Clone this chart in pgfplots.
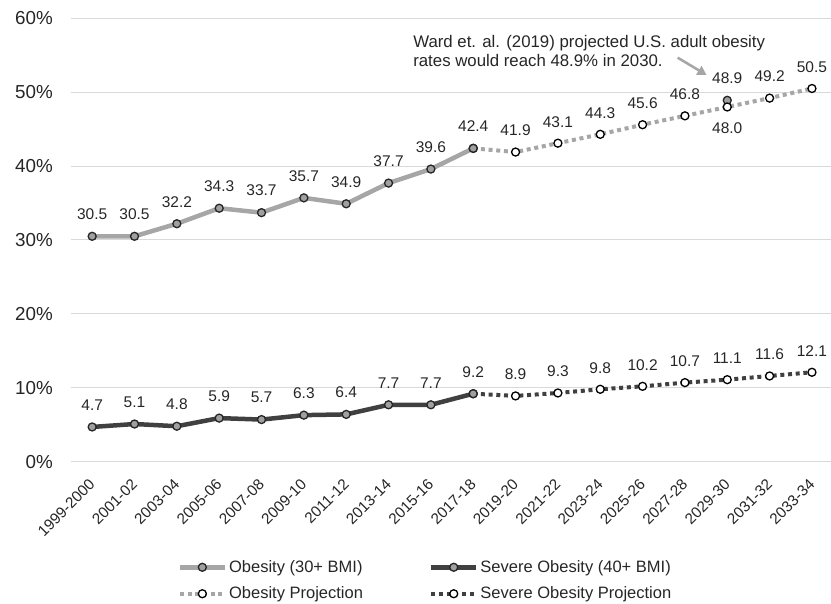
\documentclass[border=0pt]{standalone}
\usepackage{pgfplots}
\pgfplotsset{compat=1.18}
\usepackage{pgfplotstable}
\usetikzlibrary{arrows.meta}
\usepackage{fontspec}
\setmainfont{Liberation Sans}

\definecolor{obline}{HTML}{A6A6A6}
\definecolor{sevline}{HTML}{404040}
\definecolor{mkfill}{HTML}{A0A0A0}
\definecolor{mkedge}{HTML}{262626}
\definecolor{gridc}{HTML}{D9D9D9}
\definecolor{txt}{HTML}{262626}

% measured prevalence (%), index 0 = 1999-2000
\pgfplotstableread{
x y
0 30.5
1 30.5
2 32.2
3 34.3
4 33.7
5 35.7
6 34.9
7 37.7
8 39.6
9 42.4
}\obesity
\pgfplotstableread{
x y
0 4.7
1 5.1
2 4.8
3 5.9
4 5.7
5 6.3
6 6.4
7 7.7
8 7.7
9 9.2
}\severe
% projections; pos: 1 label above, -1 label below, 0 no label
\pgfplotstableread{
x y pos
9 42.4 0
10 41.9 1
11 43.1 1
12 44.3 1
13 45.6 1
14 46.8 1
15 48.0 -1
16 49.2 1
17 50.5 1
}\obesproj
\pgfplotstableread{
x y pos
9 9.2 0
10 8.9 1
11 9.3 1
12 9.8 1
13 10.2 1
14 10.7 1
15 11.1 1
16 11.6 1
17 12.1 1
}\sevproj
\pgfplotstableread{
x y
15 48.9
}\ward

\pgfplotsset{
  obes/.style={color=obline, line width=4.5pt, line cap=butt, mark=*, mark size=4pt,
    mark options={solid, fill=mkfill, draw=mkedge, line width=1.3pt}},
  sev/.style={color=sevline, line width=4.5pt, line cap=butt, mark=*, mark size=4pt,
    mark options={solid, fill=mkfill, draw=mkedge, line width=1.3pt}},
  obesp/.style={color=obline, line width=4pt, line cap=butt, dash pattern=on 4pt off 3.7pt,
    mark=*, mark size=4pt, mark options={solid, fill=white, draw=black, line width=1.3pt}},
  sevp/.style={color=sevline, line width=4pt, line cap=butt, dash pattern=on 4pt off 3.7pt,
    mark=*, mark size=4pt, mark options={solid, fill=white, draw=black, line width=1.3pt}},
  vlabels/.style={
    visualization depends on={\thisrow{pos} \as \lpos},
    nodes near coords={\ifdim\lpos pt=0pt \else\pgfmathprintnumber[fixed,fixed zerofill,precision=1]{\pgfplotspointmeta}\fi},
    every node near coord/.append style={anchor=center, yshift=\lpos*21.5pt, font=\fontsize{15.5}{18}\selectfont, text=txt, inner sep=0pt},
  },
  alabels/.style={
    nodes near coords={\pgfmathprintnumber[fixed,fixed zerofill,precision=1]{\pgfplotspointmeta}},
    every node near coord/.append style={anchor=center, yshift=22pt, font=\fontsize{15.5}{18}\selectfont, text=txt, inner sep=0pt},
  },
}

\begin{document}
\begin{tikzpicture}
\begin{axis}[
  at={(0,0)}, anchor=south west,
  scale only axis, width=760pt, height=443.4pt,
  xmin=-0.5, xmax=17.45, ymin=0, ymax=60,
  clip=false,
  axis line style={draw=none},
  major tick length=0pt,
  ymajorgrids, major grid style={color=gridc, line width=1pt},
  ytick={0,10,...,60},
  /pgf/number format/assume math mode=true,
  yticklabel={\pgfmathprintnumber{\tick}\%},
  yticklabel style={font=\fontsize{18.8}{22}\selectfont, text=txt, anchor=east, inner sep=0pt, xshift=-18pt},
  xtick={0,...,17},
  xticklabels={1999-2000,2001-02,2003-04,2005-06,2007-08,2009-10,2011-12,2013-14,2015-16,2017-18,2019-20,2021-22,2023-24,2025-26,2027-28,2029-30,2031-32,2033-34},
  xticklabel style={font=\fontsize{15.3}{18}\selectfont, text=txt, yshift=-20pt, rotate=45, anchor=east, inner sep=0pt},
  point meta=y,
  legend columns=2,
  legend cell align=left,
  legend image code/.code={\draw[#1, mark repeat=2, mark phase=2] plot coordinates {(0pt,0pt) (22.5pt,0pt) (45pt,0pt)};},
  legend style={draw=none, fill=none, at={(axis description cs:0.14,-0.218)}, anchor=north west,
    font=\fontsize{16.5}{19}\selectfont, text=txt, inner sep=0pt, row sep=9pt,
    /tikz/every even column/.append style={column sep=64pt},
    nodes={inner sep=2pt}},
]
\addlegendimage{obes}\addlegendentry{Obesity (30+ BMI)}
\addlegendimage{sev}\addlegendentry{Severe Obesity (40+ BMI)}
\addlegendimage{obesp}\addlegendentry{Obesity Projection}
\addlegendimage{sevp}\addlegendentry{Severe Obesity Projection}

% Ward et al. 2030 estimate
\addplot[obes, only marks, alabels, forget plot] table[x=x, y=y] {\ward};
% projections
\addplot[obesp, vlabels, forget plot] table[x=x, y=y] {\obesproj};
\addplot[sevp, vlabels, forget plot] table[x=x, y=y] {\sevproj};
% measured
\addplot[obes, alabels, forget plot] table[x=x, y=y] {\obesity};
\addplot[sev, alabels, forget plot] table[x=x, y=y] {\severe};

% annotation
\node[anchor=base west, font=\fontsize{16.8}{19}\selectfont, text=txt, inner sep=0pt]
  at (axis cs:7.58,56.0) {Ward et. al. (2019) projected U.S. adult obesity};
\node[anchor=base west, font=\fontsize{16.8}{19}\selectfont, text=txt, inner sep=0pt]
  at (axis cs:7.58,53.45) {rates would reach 48.9\% in 2030.};
\draw[-{Triangle[length=9pt,width=10pt]}, color=obline, line width=2.5pt]
  (axis cs:13.83,54.67) -- (axis cs:14.51,52.33);
\end{axis}
\pgfresetboundingbox
\useasboundingbox (-71pt,-142.3pt) rectangle (760pt,461.7pt);
\end{tikzpicture}
\end{document}
